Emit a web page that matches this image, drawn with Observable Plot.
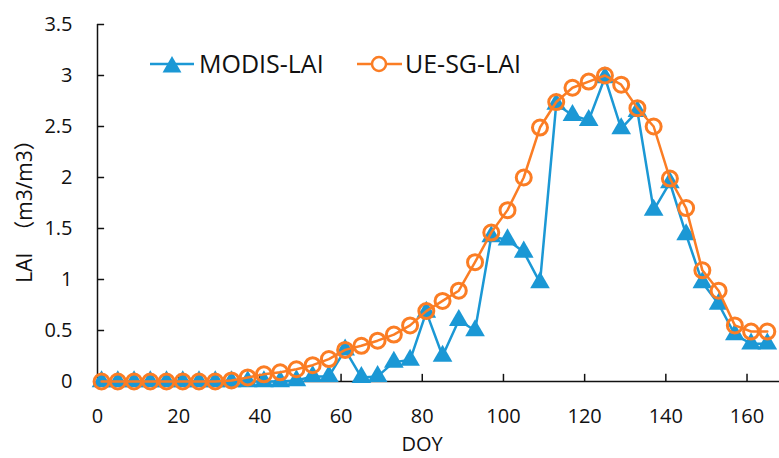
<!DOCTYPE html>
<html>
<head>
<meta charset="utf-8">
<script src="https://cdn.jsdelivr.net/npm/d3@7"></script>
<script src="https://cdn.jsdelivr.net/npm/@observablehq/plot@0.6"></script>
<style>
  html, body { margin: 0; padding: 0; background: #fff; }
  svg { display: block; }
</style>
</head>
<body>
<script>
const doy = [1, 5, 9, 13, 17, 21, 25, 29, 33, 37, 41, 45, 49, 53, 57, 61, 65, 69, 73, 77,
  81, 85, 89, 93, 97, 101, 105, 109, 113, 117, 121, 125, 129, 133, 137, 141, 145, 149,
  153, 157, 161, 165];
const modisLAI = [0, 0, 0, 0, 0, 0, 0, 0, 0, 0, 0, 0, 0.01, 0.05, 0.05, 0.31, 0.04, 0.05, 0.19, 0.21,
  0.68, 0.25, 0.6, 0.5, 1.42, 1.39, 1.27, 0.97, 2.72, 2.61, 2.56, 2.98, 2.48, 2.65, 1.68, 1.95,
  1.44, 0.97, 0.76, 0.46, 0.37, 0.37];
const ueSgLAI = [0, 0, 0, 0, 0, 0, 0, 0, 0.01, 0.04, 0.07, 0.09, 0.12, 0.16, 0.22, 0.31, 0.35, 0.4,
  0.46, 0.55, 0.69, 0.79, 0.89, 1.17, 1.46, 1.68, 2.0, 2.49, 2.74, 2.88, 2.94, 3.0, 2.91, 2.68,
  2.5, 1.99, 1.7, 1.09, 0.89, 0.55, 0.49, 0.49];
const xTicks = [0, 20, 40, 60, 80, 100, 120, 140, 160];
const yTicks = [0, 0.5, 1, 1.5, 2, 2.5, 3, 3.5];
const seriesNames = ["MODIS-LAI", "UE-SG-LAI"];
const xLabel = "DOY";
const yLabel = "LAI  （m3/m3）";

const BLUE = "#1b98d5";
const ORANGE = "#fb7d24";

const modis = doy.map((d, i) => ({doy: d, v: modisLAI[i]}));
const ue = doy.map((d, i) => ({doy: d, v: ueSgLAI[i]}));

const chart = Plot.plot({
  width: 779,
  height: 458,
  marginLeft: 97,
  marginRight: 0,
  marginTop: 24,
  marginBottom: 77,
  x: {domain: [0, 168]},
  y: {domain: [0, 3.5]},
  style: {fontFamily: "'Open Sans', 'Noto Sans CJK SC', sans-serif", fontSize: "20px", color: "#111", background: "#fff"},
  marks: [
    Plot.axisX(xTicks, {tickSize: 0, tickPadding: 27, label: null, tickFormat: d => String(d), fontSize: 20}),
    Plot.axisY(yTicks, {tickSize: 0, tickPadding: 25, label: null, tickFormat: d => String(d), fontSize: 20}),
    Plot.ruleX(xTicks.filter(d => d > 0), {y1: 0, y2: 0.07, stroke: "#111", strokeWidth: 1.5}),
    Plot.ruleY(yTicks.filter(d => d > 0), {x1: 0, x2: 1.75, stroke: "#111", strokeWidth: 1.5}),
    Plot.ruleX([0], {stroke: "#111", strokeWidth: 1.5}),
    Plot.ruleY([0], {stroke: "#111", strokeWidth: 1.5}),
    Plot.line(modis, {x: "doy", y: "v", stroke: BLUE, strokeWidth: 2.5}),
    Plot.dot(modis, {x: "doy", y: "v", symbol: "triangle", r: 7.3, fill: BLUE, stroke: "none"}),
    Plot.line(ue, {x: "doy", y: "v", stroke: ORANGE, strokeWidth: 2.5}),
    Plot.dot(ue, {x: "doy", y: "v", r: 7.5, fill: "none", stroke: ORANGE, strokeWidth: 3})
  ]
});

const svg = d3.select(chart);
svg.append("text")
  .attr("x", 422).attr("y", 451)
  .attr("text-anchor", "middle")
  .attr("font-size", 20).attr("fill", "#111")
  .text(xLabel);
svg.append("text")
  .attr("transform", "translate(32,206) rotate(-90)")
  .attr("text-anchor", "middle")
  .attr("font-size", 21).attr("fill", "#111")
  .style("white-space", "pre")
  .text(yLabel);

const lg = svg.append("g");
lg.append("line").attr("x1", 150).attr("x2", 194).attr("y1", 64).attr("y2", 64)
  .attr("stroke", BLUE).attr("stroke-width", 2.5);
lg.append("path").attr("transform", "translate(172,67)")
  .attr("d", d3.symbol(d3.symbolTriangle, Math.PI * 49)())
  .attr("fill", BLUE);
lg.append("text").attr("x", 199).attr("y", 73).attr("font-size", 25).attr("fill", "#111")
  .attr("text-anchor", "start")
  .text(seriesNames[0]);
lg.append("line").attr("x1", 357).attr("x2", 402).attr("y1", 64).attr("y2", 64)
  .attr("stroke", ORANGE).attr("stroke-width", 2.5);
lg.append("circle").attr("cx", 379).attr("cy", 64).attr("r", 7)
  .attr("fill", "#fff").attr("stroke", ORANGE).attr("stroke-width", 2.5);
lg.append("text").attr("x", 405).attr("y", 73).attr("font-size", 25).attr("fill", "#111")
  .attr("text-anchor", "start")
  .text(seriesNames[1]);

document.body.appendChild(chart);
</script>
</body>
</html>
